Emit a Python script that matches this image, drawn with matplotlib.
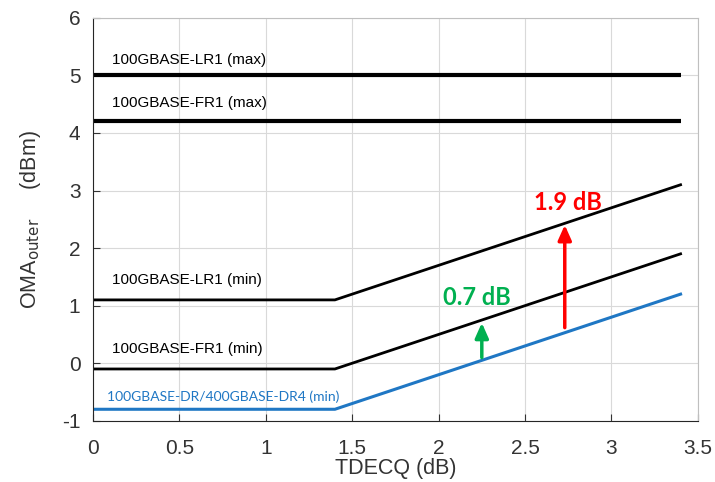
import matplotlib
matplotlib.use("Agg")
import matplotlib.pyplot as plt

# Data
x_break = [0.0, 1.4, 3.4]
lr1_max = [5.0, 5.0, 5.0]
fr1_max = [4.2, 4.2, 4.2]
lr1_min = [1.1, 1.1, 3.1]
fr1_min = [-0.1, -0.1, 1.9]
dr_min = [-0.8, -0.8, 1.2]

green_arrow_x = 2.25
green_arrow_y = [0.05, 0.75]
red_arrow_x = 2.73
red_arrow_y = [0.57, 2.45]

xticks = [0, 0.5, 1, 1.5, 2, 2.5, 3, 3.5]
yticks = [-1, 0, 1, 2, 3, 4, 5, 6]

plt.rcParams['font.family'] = ['Liberation Sans', 'DejaVu Sans']

fig = plt.figure(figsize=(7.15, 4.82), dpi=100)
ax = fig.add_axes([0.130, 0.127, 0.846, 0.836])

ax.plot(x_break, lr1_max, color='black', lw=3.0, solid_capstyle='butt')
ax.plot(x_break, fr1_max, color='black', lw=3.0, solid_capstyle='butt')
ax.plot(x_break, lr1_min, color='black', lw=2.0)
ax.plot(x_break, fr1_min, color='black', lw=2.0)
ax.plot(x_break, dr_min, color='#1f77c4', lw=2.2)

ax.annotate('', xy=(green_arrow_x, green_arrow_y[1]), xytext=(green_arrow_x, green_arrow_y[0]),
            arrowprops=dict(arrowstyle='-|>,head_width=0.4,head_length=0.9', color='#00b050', lw=2.5))
ax.annotate('', xy=(red_arrow_x, red_arrow_y[1]), xytext=(red_arrow_x, red_arrow_y[0]),
            arrowprops=dict(arrowstyle='-|>,head_width=0.4,head_length=0.9', color='#ff0000', lw=2.5))

ax.text(0.11, 5.27, '100GBASE-LR1 (max)', fontsize=11, va='center')
ax.text(0.11, 4.52, '100GBASE-FR1 (max)', fontsize=11, va='center')
ax.text(0.11, 1.45, '100GBASE-LR1 (min)', fontsize=11, va='center')
ax.text(0.11, 0.25, '100GBASE-FR1 (min)', fontsize=11, va='center')
ax.text(0.08, -0.58, '100GBASE-DR/400GBASE-DR4 (min)', fontsize=10, va='center',
        color='#1f77c4', family=['Lato', 'DejaVu Sans'])
ax.text(2.75, 2.79, '1.9 dB', fontsize=17, fontweight='bold', color='#ff0000',
        ha='center', va='center', family=['Lato', 'DejaVu Sans'])
ax.text(2.22, 1.14, '0.7 dB', fontsize=17, fontweight='bold', color='#00b050',
        ha='center', va='center', family=['Lato', 'DejaVu Sans'])

ax.set_xlim(0, 3.5)
ax.set_ylim(-1, 6)
ax.set_xticks(xticks)
ax.set_yticks(yticks)
ax.set_xticklabels([f'{t:g}' for t in xticks])
ax.set_yticklabels([f'{t:g}' for t in yticks])
ax.tick_params(direction='in', labelsize=15, colors='#333333', length=5)
ax.tick_params(axis='x', pad=13)
ax.tick_params(axis='y', pad=9)
ax.grid(True, color='#d9d9d9', lw=0.8)
ax.set_axisbelow(True)
for s in ['top', 'right']:
    ax.spines[s].set_color('#bfbfbf')
for s in ['left', 'bottom']:
    ax.spines[s].set_color('#262626')

ax.set_xlabel('TDECQ (dB)', fontsize=15.5, color='#333333', labelpad=0)
ax.set_ylabel(r'OMA$_{\mathrm{outer}}$     (dBm)', fontsize=15.5, color='#333333', labelpad=14)

fig.savefig('out.png', dpi=100)
